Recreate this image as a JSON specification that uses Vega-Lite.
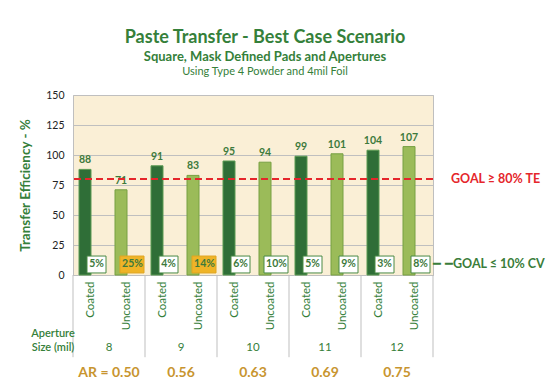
{
  "$schema": "https://vega.github.io/schema/vega-lite/v6.json",
  "width": 360,
  "height": 180,
  "autosize": "none",
  "padding": {"left": 73, "top": 95, "right": 125, "bottom": 105},
  "background": "white",
  "title": {
    "text": "Paste Transfer - Best Case Scenario",
    "subtitle": "Square, Mask Defined Pads and Apertures",
    "anchor": "middle",
    "frame": "group",
    "dx": 12,
    "offset": 2,
    "font": "Lato",
    "fontSize": 18,
    "fontWeight": "bold",
    "color": "#35803A",
    "subtitleFont": "Lato",
    "subtitleFontSize": 13,
    "subtitleFontWeight": "bold",
    "subtitleColor": "#35803A",
    "subtitlePadding": 4
  },
  "config": {
    "view": {"fill": "#FAEFD6", "stroke": "#BFBFBF"},
    "font": "Lato",
    "axisY": {
      "titleColor": "#35803A",
      "titleFont": "Lato",
      "titleFontSize": 13.5,
      "titleFontWeight": "bold",
      "titlePadding": 13,
      "labelColor": "#222222",
      "labelFont": "Lato",
      "labelFontSize": 10.5,
      "labelPadding": 9,
      "ticks": false,
      "domain": false,
      "gridColor": "#BFBFBF"
    }
  },
  "data": {
    "values": [
      {"key": "8 Coated", "size": "8", "type": "Coated", "te": 88, "cv": 5, "ar": "0.50"},
      {"key": "8 Uncoated", "size": "8", "type": "Uncoated", "te": 71, "cv": 25, "ar": "0.50"},
      {"key": "9 Coated", "size": "9", "type": "Coated", "te": 91, "cv": 4, "ar": "0.56"},
      {"key": "9 Uncoated", "size": "9", "type": "Uncoated", "te": 83, "cv": 14, "ar": "0.56"},
      {"key": "10 Coated", "size": "10", "type": "Coated", "te": 95, "cv": 6, "ar": "0.63"},
      {"key": "10 Uncoated", "size": "10", "type": "Uncoated", "te": 94, "cv": 10, "ar": "0.63"},
      {"key": "11 Coated", "size": "11", "type": "Coated", "te": 99, "cv": 5, "ar": "0.69"},
      {"key": "11 Uncoated", "size": "11", "type": "Uncoated", "te": 101, "cv": 9, "ar": "0.69"},
      {"key": "12 Coated", "size": "12", "type": "Coated", "te": 104, "cv": 3, "ar": "0.75"},
      {"key": "12 Uncoated", "size": "12", "type": "Uncoated", "te": 107, "cv": 8, "ar": "0.75"}
    ]
  },
  "transform": [
    {"calculate": "datum.cv + '%'", "as": "cvText"},
    {"calculate": "datum.size == '8' ? 'AR = ' + datum.ar : datum.ar", "as": "arText"}
  ],
  "layer": [
    {
      "encoding": {
        "x": {
          "field": "key",
          "type": "nominal",
          "sort": null,
          "title": null,
          "scale": {
            "domain": ["8 Coated", "8 Uncoated", "9 Coated", "9 Uncoated", "10 Coated", "10 Uncoated", "11 Coated", "11 Uncoated", "12 Coated", "12 Uncoated"],
            "paddingInner": 0,
            "paddingOuter": 0
          },
          "axis": {
            "title": null,
            "labelAngle": -90,
            "labelAlign": "right",
            "labelBaseline": "middle",
            "labelColor": "#35803A",
            "labelFont": "Lato",
            "labelFontSize": 11.5,
            "labelPadding": 6,
            "ticks": false,
            "domainColor": "#BFBFBF",
            "labelExpr": "split(datum.label, ' ')[1]"
          }
        }
      },
      "layer": [
        {
          "mark": {"type": "bar", "width": 12, "xOffset": -6, "strokeWidth": 1},
          "encoding": {
            "y": {
              "field": "te",
              "type": "quantitative",
              "scale": {"domain": [0, 150], "nice": false},
              "axis": {"title": "Transfer Efficiency - %", "values": [0, 25, 50, 75, 100, 125, 150]}
            },
            "color": {
              "field": "type",
              "type": "nominal",
              "scale": {"domain": ["Coated", "Uncoated"], "range": ["#2F6E37", "#9BBB59"]},
              "legend": null
            },
            "stroke": {
              "field": "type",
              "type": "nominal",
              "scale": {"domain": ["Coated", "Uncoated"], "range": ["#5B9A52", "#77A043"]},
              "legend": null
            }
          }
        },
        {
          "mark": {"type": "text", "xOffset": -6, "baseline": "bottom", "dy": -4, "fontSize": 10.5, "fontWeight": "bold", "color": "#3D7A3C"},
          "encoding": {
            "y": {"field": "te", "type": "quantitative", "axis": {"values": [0, 25, 50, 75, 100, 125, 150]}},
            "text": {"field": "te", "type": "quantitative"}
          }
        },
        {
          "transform": [{"filter": "datum.cv < 10"}],
          "mark": {"type": "bar", "width": 19, "xOffset": 5.5, "fill": "white", "stroke": "#4A8A45", "strokeWidth": 1},
          "encoding": {
            "y": {"datum": 1.7, "axis": {"values": [0, 25, 50, 75, 100, 125, 150]}},
            "y2": {"datum": 15.8}
          }
        },
        {
          "transform": [{"filter": "datum.cv >= 10"}],
          "mark": {"type": "bar", "width": 24, "xOffset": 5, "strokeWidth": 1},
          "encoding": {
            "y": {"datum": 1.7, "axis": {"values": [0, 25, 50, 75, 100, 125, 150]}},
            "y2": {"datum": 15.8},
            "fill": {"condition": {"test": "datum.cv > 10", "value": "#EFB427"}, "value": "white"},
            "stroke": {"condition": {"test": "datum.cv > 10", "value": "#E0A520"}, "value": "#4A8A45"}
          }
        },
        {
          "mark": {"type": "text", "xOffset": 5.5, "fontSize": 10.5, "fontWeight": "bold", "color": "#3D7A3C"},
          "encoding": {
            "y": {"datum": 8.8, "axis": {"values": [0, 25, 50, 75, 100, 125, 150]}},
            "text": {"field": "cvText", "type": "nominal"}
          }
        },
        {
          "transform": [{"filter": "datum.type == 'Coated'"}],
          "mark": {"type": "rule", "color": "#BFBFBF", "strokeWidth": 1},
          "encoding": {
            "x": {"field": "key", "type": "nominal", "bandPosition": 0, "title": null},
            "y": {"datum": 0, "axis": {"values": [0, 25, 50, 75, 100, 125, 150]}},
            "y2": {"datum": -68.5}
          }
        },
        {
          "transform": [{"filter": "datum.key == '12 Uncoated'"}],
          "mark": {"type": "rule", "color": "#BFBFBF", "strokeWidth": 1},
          "encoding": {
            "x": {"field": "key", "type": "nominal", "bandPosition": 1, "title": null},
            "y": {"datum": 0, "axis": {"values": [0, 25, 50, 75, 100, 125, 150]}},
            "y2": {"datum": -68.5}
          }
        },
        {
          "transform": [{"filter": "datum.type == 'Coated'"}],
          "mark": {"type": "text", "fontSize": 11.5, "color": "#35803A"},
          "encoding": {
            "x": {"field": "key", "type": "nominal", "bandPosition": 1, "title": null},
            "y": {"datum": -61, "axis": {"values": [0, 25, 50, 75, 100, 125, 150]}},
            "text": {"field": "size", "type": "nominal"}
          }
        },
        {
          "transform": [{"filter": "datum.type == 'Coated'"}],
          "mark": {"type": "text", "fontSize": 14, "fontWeight": "bold", "color": "#C8952F"},
          "encoding": {
            "x": {"field": "key", "type": "nominal", "bandPosition": 1, "title": null},
            "y": {"datum": -82, "axis": {"values": [0, 25, 50, 75, 100, 125, 150]}},
            "text": {"field": "arText", "type": "nominal"}
          }
        },
        {
          "transform": [{"filter": "datum.key == '8 Coated'"}],
          "mark": {"type": "text", "fontSize": 11, "fontWeight": 600, "color": "#35803A", "dx": -20, "lineHeight": 14},
          "encoding": {
            "x": {"field": "key", "type": "nominal", "bandPosition": 0, "title": null},
            "y": {"datum": -49, "axis": {"values": [0, 25, 50, 75, 100, 125, 150]}},
            "text": {"value": ["Aperture", "Size (mil)"]}
          }
        },
        {
          "transform": [{"filter": "datum.key == '12 Uncoated'"}],
          "mark": {"type": "text", "align": "left", "dx": 18, "fontSize": 12.5, "fontWeight": "bold", "color": "#E5262B"},
          "encoding": {
            "x": {"field": "key", "type": "nominal", "bandPosition": 1, "title": null},
            "y": {"datum": 80, "axis": {"values": [0, 25, 50, 75, 100, 125, 150]}},
            "text": {"value": "GOAL ≥ 80% TE"}
          }
        },
        {
          "transform": [{"filter": "datum.key == '12 Uncoated'"}],
          "mark": {"type": "text", "align": "left", "dx": 0, "font": "DejaVu Sans", "fontSize": 13, "color": "#3A7D3A"},
          "encoding": {
            "x": {"field": "key", "type": "nominal", "bandPosition": 1, "title": null},
            "y": {"datum": 9.2, "axis": {"values": [0, 25, 50, 75, 100, 125, 150]}},
            "text": {"value": "━ ━"}
          }
        },
        {
          "transform": [{"filter": "datum.key == '12 Uncoated'"}],
          "mark": {"type": "text", "align": "left", "dx": 20, "fontSize": 12.5, "fontWeight": "bold", "color": "#3A7D3A"},
          "encoding": {
            "x": {"field": "key", "type": "nominal", "bandPosition": 1, "title": null},
            "y": {"datum": 9.2, "axis": {"values": [0, 25, 50, 75, 100, 125, 150]}},
            "text": {"value": "GOAL ≤ 10% CV"}
          }
        }
      ]
    },
    {
      "data": {"values": [{"goal": 80}]},
      "mark": {"type": "rule", "color": "#E5262B", "strokeWidth": 1.8, "strokeDash": [7, 4], "x2Offset": 12},
      "encoding": {
        "y": {"field": "goal", "type": "quantitative", "axis": {"values": [0, 25, 50, 75, 100, 125, 150]}}
      }
    },
    {
      "data": {"values": [{"line": "Using Type 4 Powder and 4mil Foil"}]},
      "mark": {"type": "text", "dx": 12, "fontSize": 11, "color": "#35803A"},
      "encoding": {
        "y": {"datum": 169, "axis": {"values": [0, 25, 50, 75, 100, 125, 150]}},
        "text": {"field": "line", "type": "nominal"}
      }
    }
  ]
}
